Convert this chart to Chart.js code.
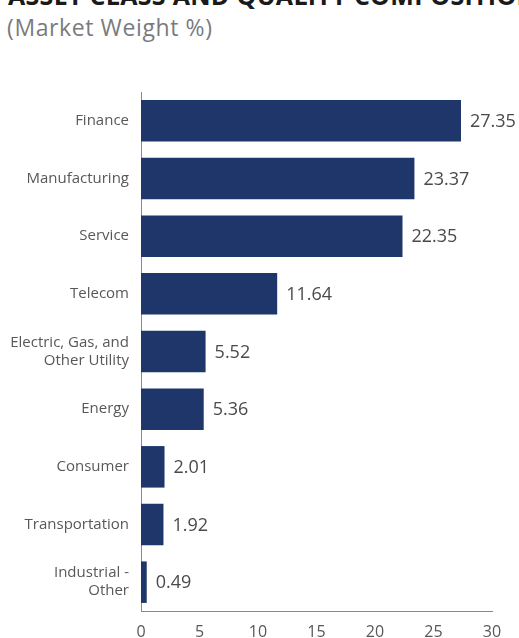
<!DOCTYPE html>
<html>
<head>
<meta charset="utf-8">
<script src="https://cdn.jsdelivr.net/npm/chart.js@4"></script>
<style>
  html, body { margin: 0; padding: 0; background: #fff; overflow: hidden; }
  body { width: 519px; height: 638px; position: relative; font-family: "Open Sans", sans-serif; }
  #title { position: absolute; left: 8px; top: -22px; font-size: 25px; font-weight: 700; color: #1a1a1a; white-space: nowrap; letter-spacing: 0.3px; }
  #subtitle { position: absolute; left: 7px; top: 11px; font-size: 23px; color: #7a7b7e; white-space: nowrap; letter-spacing: 0.6px; }
  #wrap { position: absolute; left: 0; top: 0; width: 519px; height: 638px; }
</style>
</head>
<body>
<div id="title">ASSET CLASS AND QUALITY COMPOSITION</div>
<div id="subtitle">(Market Weight %)</div>
<div id="wrap"><canvas id="chart"></canvas></div>
<script>
// ── Data ──
const categories = [
  'Finance',
  'Manufacturing',
  'Service',
  'Telecom',
  ['Electric, Gas, and', 'Other Utility'],
  'Energy',
  'Consumer',
  'Transportation',
  ['Industrial -', 'Other'],
];
const weights = [27.35, 23.37, 22.35, 11.64, 5.52, 5.36, 2.01, 1.92, 0.49];
const xTicks = [0, 5, 10, 15, 20, 25, 30];

const colors = {
  bar: '#1e3669',
  label: '#58585b',
  value: '#4a4a4d',
  axis: '#8a8a8a',
};

// Value labels drawn to the right of each bar
const valueLabels = {
  id: 'valueLabels',
  afterDatasetsDraw(chart) {
    const ctx = chart.ctx;
    const meta = chart.getDatasetMeta(0);
    ctx.save();
    ctx.font = '18px "Open Sans", sans-serif';
    ctx.fillStyle = colors.value;
    ctx.textBaseline = 'middle';
    ctx.textAlign = 'left';
    meta.data.forEach((bar, i) => {
      ctx.fillText(weights[i].toFixed(2), bar.x + 9, bar.y + 1);
    });
    ctx.restore();
  },
};

new Chart(document.getElementById('chart'), {
  type: 'bar',
  data: {
    labels: categories,
    datasets: [{
      data: weights,
      backgroundColor: colors.bar,
      barPercentage: 0.72,
      categoryPercentage: 1,
    }],
  },
  options: {
    indexAxis: 'y',
    responsive: true,
    maintainAspectRatio: false,
    animation: false,
    layout: { padding: { top: 92, right: 27, left: 0, bottom: 0 } },
    plugins: { legend: { display: false }, tooltip: { enabled: false } },
    scales: {
      x: {
        min: 0,
        max: 30,
        afterBuildTicks(scale) { scale.ticks = xTicks.map(v => ({ value: v })); },
        afterFit(scale) { scale.height = 27; },
        grid: { display: false, drawTicks: false },
        border: { color: colors.axis, width: 1 },
        ticks: { color: colors.label, font: { family: '"Open Sans", sans-serif', size: 16 }, padding: 12 },
      },
      y: {
        afterFit(scale) { scale.width = 141; },
        grid: { display: false, drawTicks: false },
        border: { color: colors.axis, width: 1 },
        ticks: { color: colors.label, font: { family: '"Open Sans", sans-serif', size: 15, lineHeight: 1.2 }, padding: 12 },
      },
    },
  },
  plugins: [valueLabels],
});
</script>
</body>
</html>
